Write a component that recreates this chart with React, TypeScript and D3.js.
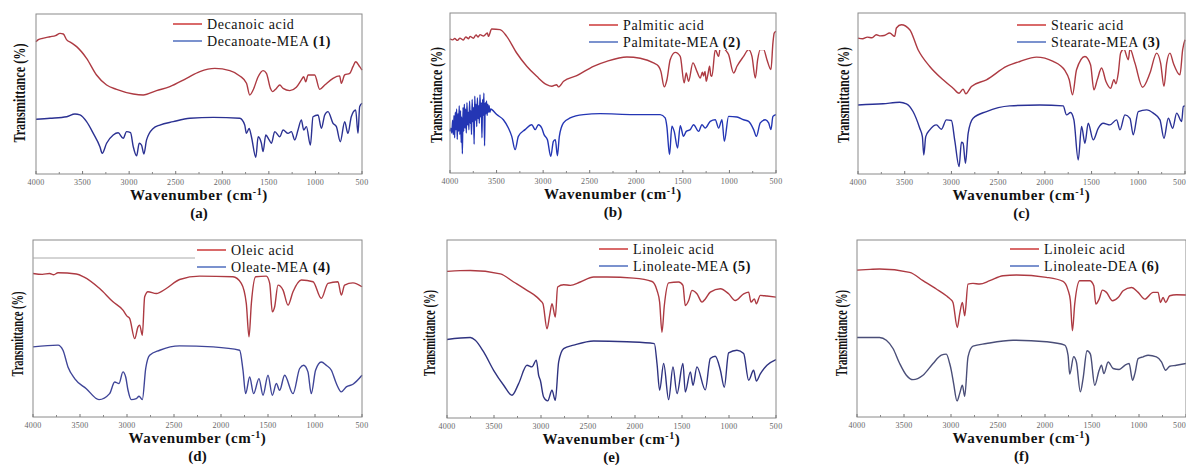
import React from 'react';
import * as d3 from 'd3';

// wavenumber axis (cm-1), shared by all six panels
const wavenumberTicks = [4000, 3500, 3000, 2500, 2000, 1500, 1000, 500];
const minorTicks = [3750, 3250, 2750, 2250, 1750, 1250, 750];

const panelLetters = ['(a)', '(b)', '(c)', '(d)', '(e)', '(f)'];
const acidNames = ['Decanoic acid', 'Palmitic acid', 'Stearic acid', 'Oleic acid', 'Linoleic acid', 'Linoleic acid'];
const productNames = ['Decanoate-MEA', 'Palmitate-MEA', 'Stearate-MEA', 'Oleate-MEA', 'Linoleate-MEA', 'Linoleate-DEA'];
const productNumbers = ['(1)', '(2)', '(3)', '(4)', '(5)', '(6)'];

// [wavenumber, relative transmittance] (0 = bottom of frame, 100 = top)
const decanoicAcid = [
  [4000, 82.7], [3975, 84], [3930, 84.8], [3850, 85.8], [3790, 86.5], [3742, 87.9], [3707, 87.5], [3670, 83.8], [3620, 82], [3564, 79.6],
  [3457, 72.3], [3350, 61.9], [3242, 55.6], [3135, 52.9], [2956, 50], [2849, 49.4], [2706, 52.1],
  [2563, 54.6], [2384, 59.8], [2241, 64], [2080, 66], [1919, 64.6], [1812, 61.3], [1740, 56.7],
  [1705, 49.4], [1669, 52.5], [1615, 60.8], [1562, 64.6], [1526, 62.9], [1483, 53.5], [1462, 51.5],
  [1419, 53.5], [1383, 55.6], [1347, 53.5], [1276, 52.1], [1205, 54.2], [1151, 58.8], [1126, 60.8],
  [1104, 57.7], [1079, 61.9], [1008, 61.9], [954, 52.9], [900, 55.6], [811, 59.8], [740, 61.3],
  [722, 56.7], [686, 61.9], [632, 62.9], [597, 67.1], [568, 70.2], [525, 67.1], [500, 65],
];
const decanoateMEA = [
  [4000, 34.2], [3850, 34.8], [3670, 35.8], [3582, 37.5], [3528, 36.9], [3457, 32.7], [3385, 25.4],
  [3314, 17.1], [3289, 12.9], [3242, 19.2], [3171, 24.4], [3118, 25.8], [3064, 22.3], [3028, 26.5],
  [2985, 25.8], [2956, 17.1], [2920, 11.3], [2892, 19.2], [2867, 18.1], [2842, 12.5], [2813, 21.3],
  [2742, 28.5], [2670, 30.6], [2527, 32.7], [2348, 34.8], [2097, 35.4], [1812, 34.8], [1759, 30.6],
  [1741, 25.4], [1712, 28.5], [1687, 23.3], [1640, 10.4], [1615, 23.3], [1580, 19.2], [1562, 14],
  [1533, 24.4], [1497, 21.3], [1472, 19.2], [1437, 26.5], [1383, 23.3], [1347, 27.5], [1294, 25.4],
  [1258, 26.5], [1222, 21.3], [1187, 27.5], [1151, 33.8], [1126, 27.5], [1097, 29.6], [1054, 18.1],
  [1026, 35.8], [972, 36.9], [936, 28.5], [900, 36.9], [865, 39], [811, 31.7], [775, 29.6],
  [733, 20.2], [686, 32.7], [651, 25.4], [615, 35.8], [568, 40], [543, 25.4], [525, 42.1], [500, 44.2],
];

const palmiticAcid = [
  [4000, 83.8], [3970, 83.2], [3950, 84.1], [3920, 82.9], [3893, 84.3], [3860, 83.1], [3830, 85],
  [3800, 83.9], [3785, 85.4], [3750, 84.2], [3720, 86.3], [3700, 85], [3678, 86.5], [3640, 85.6], [3599, 87.5], [3588, 85.4], [3552, 90],
  [3463, 89.6], [3391, 85.4], [3284, 75], [3176, 66.7], [3069, 60.4], [2962, 55.2], [2907, 54.2],
  [2854, 55.2], [2836, 53.8], [2780, 57.3], [2639, 60.8], [2460, 66.7], [2317, 69.8], [2101, 72.5],
  [1958, 71.7], [1815, 68.8], [1761, 66.7], [1736, 63.5], [1700, 53.8], [1671, 58.3], [1636, 70.8],
  [1582, 75.4], [1528, 72.9], [1486, 56.3], [1464, 62.5], [1439, 57.3], [1392, 68.8], [1349, 63.5],
  [1313, 59.4], [1290, 63], [1278, 60.6], [1262, 63.5], [1249, 57.3], [1230, 62], [1213, 66.7], [1200, 61], [1188, 60.4], [1152, 77.1], [1116, 72.9],
  [1091, 81.3], [1045, 77.1], [1009, 74], [955, 62.5], [919, 66.7], [848, 72.9], [794, 77.1],
  [758, 72.9], [722, 59.4], [697, 70.8], [669, 77.1], [633, 77.1], [597, 70.8], [554, 64.6],
  [533, 81.3], [519, 87.5], [500, 88.5],
];
const palmitateMEA = [
  [4000, 26], [3990, 28], [3980, 25], [3972, 33], [3964, 24], [3957, 36], [3950, 22], [3943, 38],
  [3936, 27], [3929, 40], [3922, 21], [3915, 37], [3908, 26], [3901, 42], [3894, 24], [3887, 39],
  [3880, 19], [3874, 35], [3867, 12], [3860, 41], [3853, 26], [3846, 43], [3839, 28], [3832, 40],
  [3825, 25], [3818, 44], [3811, 30], [3804, 38], [3797, 27], [3790, 45], [3783, 31], [3776, 39],
  [3769, 24], [3762, 46], [3755, 32], [3748, 41], [3741, 18], [3734, 48], [3727, 33], [3720, 43],
  [3713, 29], [3706, 47], [3699, 34], [3692, 42], [3685, 31], [3678, 49], [3671, 35], [3664, 44],
  [3657, 22], [3650, 46], [3643, 36], [3636, 50], [3629, 17], [3622, 44], [3615, 37], [3608, 45],
  [3601, 36], [3594, 43], [3587, 38], [3580, 42], [3572, 38], [3562, 40], [3550, 39.6], [3498, 36.5],
  [3427, 33.3], [3373, 28.1], [3337, 22.9], [3301, 14.6], [3266, 22.9], [3194, 27.1], [3122, 30.2],
  [3086, 27.1], [3051, 30.2], [3015, 28.1], [2990, 24], [2954, 20.8], [2918, 10.4], [2890, 19.8],
  [2869, 20.8], [2847, 10.8], [2826, 22.9], [2782, 31.3], [2710, 34.4], [2567, 36.5], [2388, 37.1],
  [2030, 36.5], [1743, 36.5], [1690, 34.4], [1672, 29.2], [1643, 11.5], [1618, 29.2], [1593, 26],
  [1557, 15.6], [1528, 29.6], [1493, 22.9], [1464, 26], [1421, 27.1], [1385, 30.2], [1331, 26],
  [1295, 30.2], [1260, 28.1], [1206, 32.3], [1152, 33.3], [1116, 28.1], [1080, 33.3], [1055, 19.8],
  [1009, 35.4], [919, 35], [848, 33.3], [794, 32.3], [740, 27.1], [711, 22.9], [669, 31.3],
  [615, 33.3], [579, 31.3], [554, 27.1], [533, 35.4], [500, 36.5],
];

const stearicAcid = [
  [4000, 84.4], [3950, 84], [3900, 85], [3850, 84.6], [3804, 86.5], [3760, 85.8], [3720, 86], [3661, 87.6], [3607, 85.5], [3589, 90.7],
  [3536, 92.7], [3446, 89.6], [3357, 77.2], [3232, 66.8], [3089, 58.5], [2982, 53.3], [2918, 50.2],
  [2875, 52.7], [2846, 49.8], [2786, 54.4], [2625, 58.5], [2411, 66.8], [2268, 69.9], [2089, 72.6],
  [1911, 69.9], [1786, 64.3], [1739, 58.5], [1704, 49.2], [1661, 64.7], [1571, 73], [1511, 67.8],
  [1475, 52.3], [1439, 58.5], [1393, 65.8], [1346, 57.5], [1296, 53.3], [1261, 58.5], [1240, 56], [1214, 62.7],
  [1189, 75.1], [1154, 77.6], [1107, 71], [1089, 77.6], [1036, 68.9], [954, 53.9], [875, 62.7],
  [804, 75.1], [761, 68.9], [725, 54.4], [696, 68.9], [661, 75.1], [625, 68.9], [554, 61.6],
  [525, 77.2], [500, 83.4],
];
const stearateMEA = [
  [4000, 42.9], [3732, 43.6], [3554, 44.6], [3482, 43.6], [3411, 38.8], [3339, 28.4], [3311, 23.2],
  [3296, 11.8], [3275, 23.2], [3232, 27.4], [3161, 30.5], [3107, 27.8], [3054, 33.6], [3000, 33.2],
  [2964, 20.7], [2918, 4.6], [2893, 19.7], [2875, 19.1], [2850, 6.6], [2821, 25.3], [2768, 34.6],
  [2625, 38.8], [2375, 42.3], [2054, 42.9], [1804, 42.3], [1768, 36.7], [1725, 38.2], [1689, 33.6],
  [1643, 8.7], [1607, 29.5], [1571, 19.1], [1536, 31.5], [1482, 21.2], [1429, 28.4], [1375, 31.5],
  [1304, 30.5], [1232, 33.6], [1196, 27.4], [1143, 36.7], [1089, 34.6], [1054, 24.3], [1000, 38.8],
  [911, 39.8], [839, 37.8], [768, 33.6], [725, 22.2], [679, 34.6], [632, 28.4], [589, 37.8],
  [536, 32.6], [518, 41.9], [500, 42.3],
];

const oleicAcid = [
  [4000, 81.1], [3900, 80.6], [3823, 81.1], [3780, 80.4], [3734, 81.5], [3539, 80.8], [3461, 79.2],
  [3291, 72.6], [3149, 65.1], [3043, 60.4], [3000, 57], [2972, 55.7], [2918, 44.3], [2883, 50.9],
  [2865, 51.9], [2837, 46.2], [2812, 67.9], [2777, 70.8], [2688, 69.8], [2582, 72.6], [2440, 77.7],
  [2227, 79.6], [1873, 79.2], [1784, 75.5], [1731, 64.2], [1702, 45.3], [1677, 64.2], [1631, 79.2],
  [1518, 79.6], [1482, 75.5], [1454, 59.4], [1429, 62.3], [1394, 74.5], [1340, 71.7], [1287, 63.2],
  [1234, 70.8], [1145, 77.4], [1021, 76.4], [933, 67], [862, 75.5], [756, 76.4], [720, 68.9],
  [685, 74.5], [596, 75.8], [500, 73.6],
];
const oleateMEA = [
  [4000, 39.6], [3734, 40.6], [3681, 37.7], [3628, 28.3], [3557, 21.7], [3433, 16], [3298, 9.8],
  [3185, 13.2], [3131, 19.8], [3085, 18.9], [3043, 25.5], [3014, 22.6], [2989, 15.1], [2954, 9.8],
  [2901, 10.4], [2872, 11.7], [2837, 9.8], [2801, 27.4], [2759, 34.9], [2652, 37.7], [2440, 40.2],
  [2085, 39.6], [1802, 37.7], [1766, 26.4], [1738, 13.2], [1695, 22.6], [1653, 13.2], [1596, 21.7],
  [1553, 12.3], [1500, 23.6], [1454, 12.3], [1411, 18.9], [1376, 15.1], [1323, 23.6], [1234, 13.2],
  [1163, 27.4], [1121, 29.2], [1075, 25.5], [1040, 13.2], [994, 26.4], [933, 31.1], [880, 29.2],
  [826, 26.4], [773, 18.9], [720, 14.2], [667, 17], [596, 18.5], [500, 23.6],
];

const linoleicAcidE = [
  [4000, 82.4], [3860, 82.8], [3752, 82.9], [3433, 81], [3291, 76.4], [3149, 71.7], [3043, 67.9],
  [3007, 66], [2979, 64.2], [2936, 50.1], [2908, 57.6], [2883, 64.2], [2848, 56.7], [2823, 73.6],
  [2759, 74.9], [2688, 74.5], [2582, 76.4], [2440, 79.2], [2298, 79.2], [2014, 78.6], [1819, 76.7],
  [1766, 71.7], [1738, 65.1], [1713, 48.2], [1688, 63.2], [1642, 75.9], [1536, 76.4], [1490, 74.5],
  [1465, 63.2], [1429, 66], [1394, 71.7], [1341, 69.8], [1287, 65.1], [1252, 66.9], [1199, 70.7],
  [1092, 72.6], [1004, 69.8], [933, 66], [844, 69.8], [791, 70.7], [766, 65.1], [730, 66.9],
  [709, 64.2], [667, 68.9], [596, 68.5], [500, 67.9],
];
const linoleateMEA = [
  [4000, 44.1], [3752, 45.2], [3699, 43.7], [3610, 37.1], [3504, 26.8], [3397, 18.4], [3309, 12.8],
  [3238, 19.3], [3149, 29.6], [3096, 28.7], [3050, 32.5], [3025, 24], [3007, 21.2], [2972, 11.8],
  [2929, 9.6], [2883, 15.6], [2848, 9.9], [2812, 31.5], [2759, 39], [2652, 40.9], [2440, 43.3],
  [2085, 42.8], [1794, 41.8], [1766, 30.6], [1738, 15.6], [1695, 30.6], [1642, 10.3], [1596, 28.7],
  [1553, 13.7], [1490, 30.6], [1465, 14.6], [1411, 25.9], [1383, 18.4], [1341, 28.7], [1252, 15.8],
  [1199, 33.4], [1146, 34.7], [1092, 27], [1050, 17.3], [1004, 36.6], [915, 38.1], [844, 36.2],
  [791, 21.2], [738, 26.8], [709, 20.8], [667, 24.8], [596, 29.6], [500, 32.8],
];

const linoleicAcidF = [
  [4000, 83], [3860, 83.4], [3760, 83.6], [3440, 81.7], [3298, 77], [3156, 72.3], [3050, 68.5],
  [3007, 66.6], [2979, 64.7], [2933, 50.6], [2908, 58.1], [2879, 64.7], [2854, 57.2], [2819, 75.1],
  [2766, 75.5], [2695, 75.1], [2588, 77], [2446, 79.8], [2304, 80.2], [1985, 78.9], [1808, 76.6],
  [1755, 71.7], [1730, 65.7], [1708, 48.7], [1684, 63.8], [1630, 77], [1524, 77], [1481, 74.2],
  [1460, 63.8], [1424, 66.6], [1389, 71.7], [1346, 70.4], [1282, 65.7], [1222, 67.5], [1169, 71.3],
  [1080, 73.2], [1009, 70.4], [938, 66.6], [850, 70.4], [797, 70.4], [772, 64.7], [744, 67.5],
  [716, 64.7], [673, 68.5], [602, 69.1], [500, 68.9],
];
const linoleateDEA = [
  [4000, 44.9], [3760, 44.9], [3688, 43.4], [3617, 38.7], [3546, 30.2], [3475, 23.6], [3404, 21.1],
  [3298, 23.6], [3191, 30.2], [3103, 34.9], [3050, 35.5], [3014, 30.2], [2997, 26.4], [2972, 18.9],
  [2936, 9.1], [2908, 13.2], [2879, 17.9], [2854, 11.7], [2819, 34], [2766, 40], [2624, 41.5],
  [2340, 43.4], [1985, 42.5], [1790, 40.6], [1755, 34.9], [1737, 24.2], [1695, 34], [1666, 31.1],
  [1624, 14.2], [1595, 21.7], [1553, 37.4], [1517, 35.5], [1471, 17.9], [1424, 26.4], [1399, 29.2],
  [1374, 24.5], [1328, 31.1], [1275, 27.4], [1211, 26.8], [1151, 29.2], [1105, 30.2], [1069, 20.8],
  [1044, 24.5], [1009, 33], [956, 34], [903, 34.9], [815, 34], [761, 31.1], [716, 26.4],
  [673, 28.7], [602, 29.2], [500, 30.2],
];

const acidSeries = [decanoicAcid, palmiticAcid, stearicAcid, oleicAcid, linoleicAcidE, linoleicAcidF];
const productSeries = [decanoateMEA, palmitateMEA, stearateMEA, oleateMEA, linoleateMEA, linoleateDEA];

// panel placement on the page
const layout = [
  { x0: 36, x1: 362, y0: 14, y1: 174, yLabX: 19, yLabY: 93, yLabLen: 100, legX: 173, legY: 24, box: [170, 15, 190, 36], blue: '#2b3192' },
  { x0: 450, x1: 776, y0: 13, y1: 173, yLabX: 436, yLabY: 95, yLabLen: 97, legX: 589, legY: 25, box: [585, 14, 183, 36], blue: '#2436b4' },
  { x0: 858, x1: 1185, y0: 13, y1: 174, yLabX: 843, yLabY: 95, yLabLen: 97, legX: 1017, legY: 25, box: [1014, 14, 166, 36], blue: '#2a3196' },
  { x0: 33, x1: 362, y0: 240, y1: 417, yLabX: 18, yLabY: 334, yLabLen: 86, legX: 197, legY: 250, box: [194, 241, 166, 30], blue: '#3f4598', rule: 195 },
  { x0: 447, x1: 776, y0: 240, y1: 418, yLabX: 430, yLabY: 333, yLabLen: 87, legX: 599, legY: 249, box: [596, 241, 178, 30], blue: '#2f3380' },
  { x0: 857, x1: 1186, y0: 240, y1: 417, yLabX: 842, yLabY: 333, yLabLen: 87, legX: 1010, legY: 249, box: [1007, 241, 178, 30], blue: '#4a4e78' },
];

const RED = '#ad3a42';
const serif = '"Liberation Serif", "Times New Roman", serif';
const Y_TITLE_WIDTH = 131; // natural width of the bold 16px y title

function Panel({ i }: { i: number }) {
  const L = layout[i];
  const x = d3.scaleLinear().domain([4000, 500]).range([L.x0, L.x1]);
  const y = d3.scaleLinear().domain([0, 100]).range([L.y1, L.y0]);
  const line = d3.line<number[]>().x(d => x(d[0])).y(d => y(d[1])).curve(d3.curveMonotoneX);
  const cx = (L.x0 + L.x1) / 2;

  return (
    <g>
      <path d={line(acidSeries[i]) || ''} fill="none" stroke={RED} strokeWidth={1.4} strokeLinejoin="round" />
      <path d={line(productSeries[i]) || ''} fill="none" stroke={L.blue} strokeWidth={1.4} strokeLinejoin="round" />

      <rect x={L.box[0]} y={L.box[1]} width={L.box[2]} height={L.box[3]} fill="#fff" />

      {/* frame */}
      <rect x={L.x0} y={L.y0} width={L.x1 - L.x0} height={L.y1 - L.y0} fill="none" stroke="#8a8a8a" strokeWidth={1} />
      {L.rule && <line x1={L.x0} x2={L.rule} y1={258} y2={258} stroke="#aaa" strokeWidth={1} />}

      {wavenumberTicks.map(t => {
        const tx = x(t);
        const edge = tx + 9 > 1186;
        return (
          <g key={t}>
            <line x1={tx} x2={tx} y1={L.y1} y2={L.y1 - 3} stroke="#777" />
            <text x={edge ? 1186 : tx} y={L.y1 + 11} textAnchor={edge ? 'end' : 'middle'} fontSize={8} fill="#666"
              fontFamily={serif} letterSpacing={0.3}>{t}</text>
          </g>
        );
      })}
      {minorTicks.map(t => (
        <line key={t} x1={x(t)} x2={x(t)} y1={L.y1} y2={L.y1 - 2} stroke="#888" />
      ))}

      {/* legend */}
      <line x1={L.legX} x2={L.legX + 29} y1={L.legY} y2={L.legY} stroke="#d04545" strokeWidth={1.6} />
      <line x1={L.legX} x2={L.legX + 29} y1={L.legY + 17} y2={L.legY + 17} stroke="#5a76c2" strokeWidth={1.6} />
      <text x={L.legX + 34} y={L.legY + 4.5} fontSize={14} fontFamily={serif} letterSpacing={0.6} fill="#111">{acidNames[i]}</text>
      <text x={L.legX + 34} y={L.legY + 21.5} fontSize={14} fontFamily={serif} letterSpacing={0.6} fill="#111">
        {productNames[i]} <tspan fontWeight="bold">{productNumbers[i]}</tspan>
      </text>

      {/* axis titles */}
      <text transform={`translate(${L.yLabX},${L.yLabY}) rotate(-90) scale(${L.yLabLen / Y_TITLE_WIDTH},1)`} textAnchor="middle"
        dominantBaseline="central" fontSize={16} fontWeight="bold" fontFamily={serif} fill="#111">
        Transmittance (%)
      </text>
      <text x={cx} y={L.y1 + 26} textAnchor="middle" fontSize={15} fontWeight="bold" fontFamily={serif} letterSpacing={0.6} fill="#111">
        Wavenumber (cm<tspan dy={-5} fontSize={10}>-1</tspan><tspan dy={5}>)</tspan>
      </text>
      <text x={cx} y={L.y1 + 44} textAnchor="middle" fontSize={15} fontWeight="bold" fontFamily={serif} fill="#111">
        {panelLetters[i]}
      </text>
    </g>
  );
}

export default function App() {
  return (
    <svg width={1186} height={465} style={{ position: 'absolute', left: 0, top: 0, background: '#fff' }}>
      <rect width={1186} height={465} fill="#fff" />
      {layout.map((_, i) => <Panel key={i} i={i} />)}
    </svg>
  );
}
